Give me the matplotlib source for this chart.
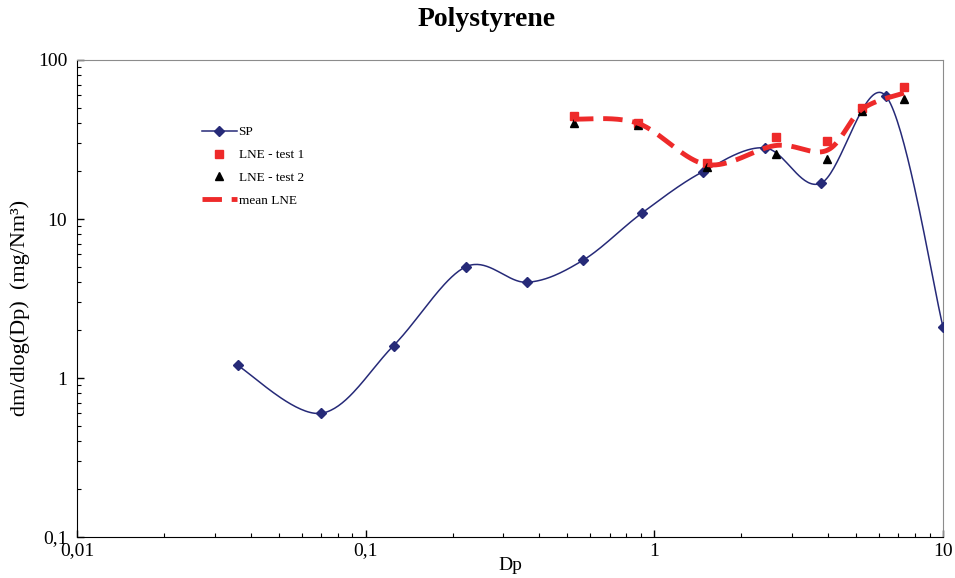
import numpy as np
import matplotlib
matplotlib.use('Agg')
import matplotlib.pyplot as plt
from matplotlib.ticker import LogLocator, FuncFormatter, NullFormatter

plt.rcParams['font.family'] = ['Liberation Serif', 'DejaVu Serif']

# data
sp_dp = [0.036, 0.07, 0.125, 0.222, 0.362, 0.566, 0.906, 1.47, 2.42, 3.78, 6.34, 10.0]
sp_val = [1.2, 0.6, 1.6, 5.0, 4.0, 5.5, 10.9, 19.8, 28.0, 16.8, 59.4, 2.1]

lne_dp = [0.527, 0.877, 1.52, 2.64, 3.96, 5.24, 7.32]
lne_test1 = [44.5, 40.2, 22.5, 32.8, 31.0, 49.9, 67.6]
lne_test2 = [40.2, 39.0, 21.2, 25.6, 23.8, 47.8, 56.8]
lne_mean = [42.5, 40.0, 22.0, 29.0, 27.0, 49.0, 62.0]


def smooth(xs, ys, n=40):
    # Catmull-Rom spline in log-log space (like a spreadsheet's smoothed line)
    px = np.log10(xs)
    py = np.log10(ys)
    px = np.concatenate([[px[0]], px, [px[-1]]])
    py = np.concatenate([[py[0]], py, [py[-1]]])
    ox, oy = [], []
    t = np.linspace(0, 1, n)
    for i in range(1, len(px) - 2):
        p0, p1, p2, p3 = [np.array([px[j], py[j]]) for j in (i - 1, i, i + 1, i + 2)]
        c1 = p1 + (p2 - p0) / 6
        c2 = p2 - (p3 - p1) / 6
        pts = ((1 - t) ** 3)[:, None] * p1 + (3 * (1 - t) ** 2 * t)[:, None] * c1 \
            + (3 * (1 - t) * t ** 2)[:, None] * c2 + (t ** 3)[:, None] * p2
        ox.extend(pts[:, 0])
        oy.extend(pts[:, 1])
    return 10 ** np.array(ox), 10 ** np.array(oy)


fig = plt.figure(figsize=(9.55, 5.78), dpi=100)
ax = fig.add_axes([0.0806, 0.0709, 0.9068, 0.8253])

navy = '#262A78'
red = '#EE2A2A'

sx, sy = smooth(sp_dp, sp_val)
ax.plot(sx, sy, color=navy, lw=1.1, zorder=2)
ax.plot(sp_dp, sp_val, ls='none', marker='D', ms=4.8, color=navy, zorder=3)
ax.plot([], [], color=navy, lw=1.1, marker='D', ms=4.8, label='SP')

ax.plot(lne_dp, lne_test1, ls='none', marker='s', ms=6, color=red, label='LNE - test 1', zorder=4)
ax.plot(lne_dp, lne_test2, ls='none', marker='^', ms=6, color='black', label='LNE - test 2', zorder=5)

mx, my = smooth(lne_dp, lne_mean)
ax.plot(mx, my, color=red, lw=3.5, dashes=(4, 2), label='mean LNE', zorder=6)

ax.set_xscale('log')
ax.set_yscale('log')
ax.set_xlim(0.01, 10)
ax.set_ylim(0.1, 100)

fmt = FuncFormatter(lambda v, p: ('%g' % v).replace('.', ','))
for axis in (ax.xaxis, ax.yaxis):
    axis.set_major_locator(LogLocator(base=10))
    axis.set_minor_locator(LogLocator(base=10, subs=np.arange(2, 10)))
    axis.set_major_formatter(fmt)
    axis.set_minor_formatter(NullFormatter())

ax.tick_params(which='both', direction='in', labelsize=14, top=False, right=False)
ax.tick_params(which='major', length=5, width=1)
ax.tick_params(which='minor', length=3, width=0.8)
ax.tick_params(axis='y', pad=7)
ax.tick_params(axis='x', pad=4)

for s in ('top', 'right'):
    ax.spines[s].set_color('#8C8C8C')
for s in ('left', 'bottom'):
    ax.spines[s].set_color('black')

fig.text(487 / 955, 1 - 20 / 578, 'Polystyrene', fontsize=20, fontweight='bold',
         ha='center', va='center')
ax.set_xlabel('Dp', fontsize=14, labelpad=-2)
ax.set_ylabel('dm/dlog(Dp)  (mg/Nm³)', fontsize=16)
ax.yaxis.set_label_coords(-0.054, 0.48)

ax.legend(loc='upper left', bbox_to_anchor=(0.131, 0.886), frameon=False, fontsize=9.5,
          handlelength=2.6, handletextpad=0.15, labelspacing=0.8)

fig.savefig('out.png', dpi=100)
